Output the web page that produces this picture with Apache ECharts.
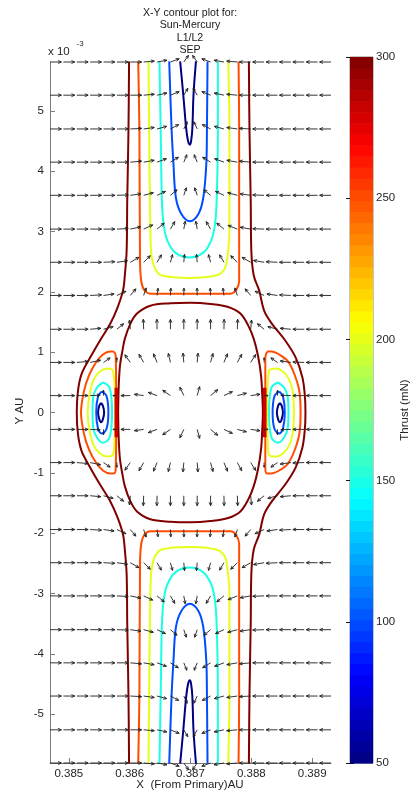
<!DOCTYPE html>
<html>
<head>
<meta charset="utf-8">
<script src="https://cdn.jsdelivr.net/npm/echarts@6/dist/echarts.min.js"></script>
<style>
  html, body { margin: 0; padding: 0; background: #fff; }
  #chart { width: 417px; height: 798px; }
</style>
</head>
<body>
<div id="chart"></div>
<script>
// ---- Thrust contours (mN), X in AU, Y in 1e-3 AU ----
const cMin = 50, cMax = 300;

// band above Mercury (U shapes opening to the top edge)
const topBand50  = [[0.38683,5.82],[0.38688,5.28],[0.38693,4.70],[0.38696,4.50],[0.38699,4.44],[0.38701,4.50],[0.38703,4.70],[0.38705,5.28],[0.38709,5.82]];
const topBand100 = [[0.38665,5.82],[0.38669,4.67],[0.38672,4.12],[0.38676,3.56],[0.38685,3.29],[0.38699,3.17],[0.38713,3.29],[0.38721,3.56],[0.38726,4.12],[0.38727,4.67],[0.38728,5.82]];
const topBand150 = [[0.38649,5.82],[0.38651,4.67],[0.38653,3.51],[0.38656,3.10],[0.38662,2.85],[0.38675,2.65],[0.38698,2.57],[0.38721,2.65],[0.38734,2.85],[0.38740,3.10],[0.38743,3.51],[0.38745,4.67],[0.38745,5.82]];
const topBand200 = [[0.38631,5.82],[0.38632,4.67],[0.38634,3.01],[0.38636,2.60],[0.38642,2.38],[0.38653,2.27],[0.38698,2.23],[0.38742,2.27],[0.38756,2.38],[0.38761,2.60],[0.38764,3.01],[0.38764,4.67],[0.38762,5.82]];
const topBand250 = [[0.38614,5.82],[0.38616,4.67],[0.38617,2.51],[0.38619,2.18],[0.38624,2.03],[0.38634,1.97],[0.38698,1.97],[0.38766,1.97],[0.38775,2.03],[0.38780,2.18],[0.38780,2.51],[0.38780,4.67],[0.38779,5.82]];

// band below Mercury
const bottomBand50  = [[0.38683,-5.82],[0.38688,-5.28],[0.38693,-4.70],[0.38696,-4.50],[0.38699,-4.44],[0.38701,-4.50],[0.38703,-4.70],[0.38705,-5.28],[0.38709,-5.82]];
const bottomBand100 = [[0.38665,-5.82],[0.38669,-4.67],[0.38672,-4.12],[0.38676,-3.56],[0.38685,-3.29],[0.38699,-3.17],[0.38713,-3.29],[0.38721,-3.56],[0.38726,-4.12],[0.38727,-4.67],[0.38728,-5.82]];
const bottomBand150 = [[0.38649,-5.82],[0.38651,-4.67],[0.38653,-3.51],[0.38656,-3.10],[0.38662,-2.85],[0.38675,-2.65],[0.38698,-2.57],[0.38721,-2.65],[0.38734,-2.85],[0.38740,-3.10],[0.38743,-3.51],[0.38745,-4.67],[0.38745,-5.82]];
const bottomBand200 = [[0.38631,-5.82],[0.38632,-4.67],[0.38634,-3.01],[0.38636,-2.60],[0.38642,-2.38],[0.38653,-2.27],[0.38698,-2.23],[0.38742,-2.27],[0.38756,-2.38],[0.38761,-2.60],[0.38764,-3.01],[0.38764,-4.67],[0.38762,-5.82]];
const bottomBand250 = [[0.38614,-5.82],[0.38616,-4.67],[0.38617,-2.51],[0.38619,-2.18],[0.38624,-2.03],[0.38634,-1.97],[0.38698,-1.97],[0.38766,-1.97],[0.38775,-2.03],[0.38780,-2.18],[0.38780,-2.51],[0.38780,-4.67],[0.38779,-5.82]];

// 300 mN: outer boundaries and the closed loop round Mercury
const outerLeft300 = [[0.38599,5.82],[0.38598,4.67],[0.38596,3.51],[0.38595,2.68],[0.38592,2.27],[0.38589,2.02],[0.38580,1.74],[0.38568,1.47],[0.38551,1.19],[0.38535,0.91],[0.38521,0.64],[0.38515,0.36],[0.38513,0],[0.38515,-0.36],[0.38521,-0.64],[0.38535,-0.91],[0.38551,-1.19],[0.38568,-1.47],[0.38580,-1.74],[0.38589,-2.02],[0.38592,-2.27],[0.38595,-2.68],[0.38596,-3.51],[0.38598,-4.67],[0.38599,-5.82]];
const outerRight300 = [[0.38796,5.82],[0.38797,4.67],[0.38799,3.51],[0.38800,2.68],[0.38804,2.27],[0.38813,2.02],[0.38821,1.69],[0.38834,1.47],[0.38856,1.19],[0.38873,0.91],[0.38884,0.58],[0.38888,0.28],[0.38889,0],[0.38888,-0.28],[0.38884,-0.58],[0.38873,-0.91],[0.38856,-1.19],[0.38834,-1.47],[0.38821,-1.69],[0.38813,-2.02],[0.38804,-2.27],[0.38800,-2.68],[0.38799,-3.51],[0.38797,-4.67],[0.38796,-5.82]];
const core300 = [[0.38581,0],[0.38582,0.44],[0.38584,0.77],[0.38588,1.02],[0.38592,1.22],[0.38601,1.47],[0.38612,1.64],[0.38634,1.77],[0.38667,1.81],[0.38700,1.82],[0.38733,1.80],[0.38762,1.75],[0.38782,1.64],[0.38795,1.44],[0.38804,1.22],[0.38811,0.94],[0.38816,0.61],[0.38818,0.28],[0.38819,0],[0.38818,-0.28],[0.38816,-0.61],[0.38811,-0.94],[0.38804,-1.22],[0.38795,-1.44],[0.38782,-1.64],[0.38762,-1.75],[0.38733,-1.80],[0.38700,-1.82],[0.38667,-1.81],[0.38634,-1.77],[0.38612,-1.64],[0.38601,-1.47],[0.38592,-1.22],[0.38588,-1.02],[0.38584,-0.77],[0.38582,-0.44],[0.38581,0]];

// closed loops round L1
const lobeL1_50  = [[0.38553,0.16],[0.38550,0.11],[0.38548,0],[0.38550,-0.11],[0.38553,-0.16],[0.38556,-0.11],[0.38558,0],[0.38556,0.11],[0.38553,0.16]];
const lobeL1_100 = [[0.38554,0.35],[0.38548,0.27],[0.38545,0],[0.38548,-0.27],[0.38554,-0.35],[0.38562,-0.27],[0.38565,0],[0.38562,0.27],[0.38554,0.35]];
const lobeL1_150 = [[0.38556,0.50],[0.38546,0.41],[0.38540,0.25],[0.38539,0],[0.38540,-0.25],[0.38546,-0.41],[0.38556,-0.50],[0.38566,-0.43],[0.38570,-0.23],[0.38571,0],[0.38570,0.23],[0.38566,0.43],[0.38556,0.50]];
const lobeL1_200 = [[0.38572,0.71],[0.38563,0.73],[0.38551,0.68],[0.38541,0.55],[0.38535,0.35],[0.38531,0],[0.38535,-0.35],[0.38541,-0.55],[0.38551,-0.68],[0.38563,-0.73],[0.38572,-0.71],[0.38575,-0.48],[0.38576,0],[0.38575,0.48],[0.38572,0.71]];
const lobeL1_250 = [[0.38574,1.01],[0.38568,1.01],[0.38556,0.96],[0.38544,0.82],[0.38533,0.61],[0.38525,0.36],[0.38520,0],[0.38525,-0.36],[0.38533,-0.61],[0.38544,-0.82],[0.38556,-0.96],[0.38568,-1.01],[0.38574,-1.01],[0.38577,-0.95],[0.38578,0],[0.38577,0.95],[0.38574,1.01]];

// closed loops round L2
const lobeL2_50  = [[0.38847,0.16],[0.38850,0.11],[0.38852,0],[0.38850,-0.11],[0.38847,-0.16],[0.38844,-0.11],[0.38842,0],[0.38844,0.11],[0.38847,0.16]];
const lobeL2_100 = [[0.38846,0.35],[0.38852,0.27],[0.38855,0],[0.38852,-0.27],[0.38846,-0.35],[0.38838,-0.27],[0.38835,0],[0.38838,0.27],[0.38846,0.35]];
const lobeL2_150 = [[0.38844,0.50],[0.38854,0.41],[0.38860,0.25],[0.38861,0],[0.38860,-0.25],[0.38854,-0.41],[0.38844,-0.50],[0.38834,-0.43],[0.38830,-0.23],[0.38829,0],[0.38830,0.23],[0.38834,0.43],[0.38844,0.50]];
const lobeL2_200 = [[0.38829,0.71],[0.38841,0.73],[0.38852,0.68],[0.38862,0.55],[0.38868,0.35],[0.38870,0],[0.38868,-0.35],[0.38862,-0.55],[0.38852,-0.68],[0.38841,-0.73],[0.38829,-0.71],[0.38827,-0.48],[0.38826,0],[0.38827,0.48],[0.38829,0.71]];
const lobeL2_250 = [[0.38826,1.01],[0.38833,1.01],[0.38846,0.96],[0.38860,0.85],[0.38871,0.63],[0.38879,0.35],[0.38881,0],[0.38879,-0.35],[0.38871,-0.63],[0.38860,-0.85],[0.38846,-0.96],[0.38833,-1.01],[0.38826,-1.01],[0.38823,-0.91],[0.38823,0],[0.38823,0.91],[0.38826,1.01]];

// bunched contours on the Mercury side of each Lagrange point
const stepL1 = [[0.38578,0.41],[0.38578,-0.41]];
const stepL2 = [[0.38822,0.41],[0.38822,-0.41]];

// ---- Thrust direction field (quiver) ----
const gridX = [0.38469,0.38491,0.38513,0.38535,0.38557,0.38579,0.38601,0.38623,0.38645,0.38667,0.38689,0.38711,0.38733,0.38755,0.38777,0.38799,0.38821,0.38843,0.38865,0.38887,0.38909,0.38931];
const gridY = [5.81,5.26,4.70,4.15,3.60,3.04,2.49,1.94,1.38,0.83,0.28,-0.28,-0.83,-1.38,-1.94,-2.49,-3.04,-3.60,-4.15,-4.70,-5.26,-5.81];
// arrow direction in degrees, one row per gridY value (top to bottom)
const quiverAngle = [
  [0,0,0,0,0,0,0,5,10,20,55,125,160,170,175,180,180,180,180,180,180,180],
  [0,0,0,0,0,0,0,5,12,22,60,120,158,168,175,180,180,180,180,180,180,180],
  [0,0,0,0,0,0,3,8,15,28,65,115,152,165,172,177,180,180,180,180,180,180],
  [0,0,0,0,0,0,5,10,20,32,68,112,148,160,170,175,180,180,180,180,180,180],
  [0,0,0,0,0,2,8,15,25,40,72,108,140,155,165,172,178,180,180,180,180,180],
  [0,0,0,0,0,3,12,25,40,60,80,100,120,140,158,170,178,180,180,180,180,180],
  [0,0,0,0,3,8,30,45,60,75,85,95,105,120,135,150,170,177,180,180,180,180],
  [0,0,0,3,8,25,50,72,82,87,89,91,93,98,108,130,155,172,177,180,180,180],
  [0,0,0,5,15,40,95,92,91,90,90,90,90,89,88,85,140,165,175,180,180,180],
  [0,0,5,12,35,90,125,120,112,103,95,85,75,68,62,58,90,145,172,178,180,180],
  [0,0,0,2,90,180,180,172,160,145,115,75,40,25,15,8,0,90,178,180,180,180],
  [0,0,0,-2,-90,180,180,-172,-160,-145,-115,-75,-40,-25,-15,-8,0,-90,-178,180,180,180],
  [0,0,-5,-12,-35,-90,-125,-120,-112,-103,-95,-85,-75,-68,-62,-58,-90,-145,-172,-178,180,180],
  [0,0,0,-5,-15,-40,-95,-92,-91,-90,-90,-90,-90,-89,-88,-85,-140,-165,-175,180,180,180],
  [0,0,0,-3,-8,-25,-50,-72,-82,-87,-89,-91,-93,-98,-108,-130,-155,-172,-177,180,180,180],
  [0,0,0,0,-3,-8,-30,-45,-60,-75,-85,-95,-105,-120,-135,-150,-170,-177,180,180,180,180],
  [0,0,0,0,0,-3,-12,-25,-40,-60,-80,-100,-120,-140,-158,-170,-178,180,180,180,180,180],
  [0,0,0,0,0,-2,-8,-15,-25,-40,-72,-108,-140,-155,-165,-172,-178,180,180,180,180,180],
  [0,0,0,0,0,0,-5,-10,-20,-32,-68,-112,-148,-160,-170,-175,180,180,180,180,180,180],
  [0,0,0,0,0,0,-3,-8,-15,-28,-65,-115,-152,-165,-172,-177,180,180,180,180,180,180],
  [0,0,0,0,0,0,0,-5,-12,-22,-60,-120,-158,-168,-175,180,180,180,180,180,180,180],
  [0,0,0,0,0,0,0,-5,-10,-20,-55,-125,-160,-170,-175,180,180,180,180,180,180,180]
];
// arrow length relative to the grid spacing
const quiverLength = [
  [.85,.85,.85,.85,.85,.85,.85,.8,.75,.7,.6,.6,.7,.75,.8,.85,.85,.85,.85,.85,.85,.85],
  [.85,.85,.85,.85,.85,.85,.85,.8,.75,.7,.6,.6,.7,.75,.8,.85,.85,.85,.85,.85,.85,.85],
  [.85,.85,.85,.85,.85,.85,.85,.8,.75,.7,.6,.6,.7,.75,.8,.85,.85,.85,.85,.85,.85,.85],
  [.85,.85,.85,.85,.85,.85,.85,.8,.75,.7,.6,.6,.7,.75,.8,.85,.85,.85,.85,.85,.85,.85],
  [.85,.85,.85,.85,.85,.85,.8,.75,.7,.65,.6,.6,.65,.7,.75,.8,.85,.85,.85,.85,.85,.85],
  [.85,.85,.85,.85,.85,.85,.8,.75,.7,.65,.6,.6,.65,.7,.75,.8,.85,.85,.85,.85,.85,.85],
  [.85,.85,.85,.85,.85,.8,.75,.7,.65,.6,.6,.6,.6,.65,.7,.75,.8,.85,.85,.85,.85,.85],
  [.85,.85,.85,.85,.8,.75,.65,.6,.55,.55,.55,.55,.55,.55,.6,.65,.75,.8,.85,.85,.85,.85],
  [.85,.85,.85,.8,.75,.65,.7,.75,.75,.75,.75,.75,.75,.75,.75,.7,.65,.75,.8,.85,.85,.85],
  [.85,.85,.85,.8,.6,.35,.7,.7,.7,.7,.7,.7,.7,.7,.7,.7,.35,.6,.8,.85,.85,.85],
  [.85,.85,.85,.75,.4,.3,.7,.7,.7,.7,.7,.7,.7,.7,.7,.7,.3,.4,.75,.85,.85,.85],
  [.85,.85,.85,.75,.4,.3,.7,.7,.7,.7,.7,.7,.7,.7,.7,.7,.3,.4,.75,.85,.85,.85],
  [.85,.85,.85,.8,.6,.35,.7,.7,.7,.7,.7,.7,.7,.7,.7,.7,.35,.6,.8,.85,.85,.85],
  [.85,.85,.85,.8,.75,.65,.7,.75,.75,.75,.75,.75,.75,.75,.75,.7,.65,.75,.8,.85,.85,.85],
  [.85,.85,.85,.85,.8,.75,.65,.6,.55,.55,.55,.55,.55,.55,.6,.65,.75,.8,.85,.85,.85,.85],
  [.85,.85,.85,.85,.85,.8,.75,.7,.65,.6,.6,.6,.6,.65,.7,.75,.8,.85,.85,.85,.85,.85],
  [.85,.85,.85,.85,.85,.85,.8,.75,.7,.65,.6,.6,.65,.7,.75,.8,.85,.85,.85,.85,.85,.85],
  [.85,.85,.85,.85,.85,.85,.8,.75,.7,.65,.6,.6,.65,.7,.75,.8,.85,.85,.85,.85,.85,.85],
  [.85,.85,.85,.85,.85,.85,.85,.8,.75,.7,.6,.6,.7,.75,.8,.85,.85,.85,.85,.85,.85,.85],
  [.85,.85,.85,.85,.85,.85,.85,.8,.75,.7,.6,.6,.7,.75,.8,.85,.85,.85,.85,.85,.85,.85],
  [.85,.85,.85,.85,.85,.85,.85,.8,.75,.7,.6,.6,.7,.75,.8,.85,.85,.85,.85,.85,.85,.85],
  [.85,.85,.85,.85,.85,.85,.85,.8,.75,.7,.6,.6,.7,.75,.8,.85,.85,.85,.85,.85,.85,.85]
];

// axis ticks
const xTicks = [0.385, 0.386, 0.387, 0.388, 0.389];
const yTicks = [-5, -4, -3, -2, -1, 0, 1, 2, 3, 4, 5];

// ---- helpers ----
const FONT = '"Liberation Sans", Arial, Helvetica, sans-serif';

// MATLAB-style jet colormap
function jet(v) {
  const t = Math.max(0, Math.min(1, (v - cMin) / (cMax - cMin)));
  const f = (s) => Math.round(255 * Math.max(0, Math.min(1, 1.5 - Math.abs(4 * t - s))));
  return 'rgb(' + f(3) + ',' + f(2) + ',' + f(1) + ')';
}

function contour(data, level, width) {
  return {
    type: 'line', xAxisIndex: 0, yAxisIndex: 0, data: data,
    symbol: 'none', smooth: 0.35, clip: true, silent: true, z: 3,
    lineStyle: { color: jet(level), width: width || 2 }
  };
}

const QSTEP_X = 0.00022, QSTEP_Y = 0.22;   // quiver scale in axis units
const quiverData = [];
gridY.forEach((y, r) => gridX.forEach((x, c) => {
  quiverData.push([x, y, quiverAngle[r][c], quiverLength[r][c]]);
}));

function renderArrow(params, api) {
  const x = api.value(0), y = api.value(1);
  const a = api.value(2) * Math.PI / 180, len = api.value(3);
  const p0 = api.coord([x, y]);
  const p1 = api.coord([x + len * QSTEP_X * Math.cos(a), y + len * QSTEP_Y * Math.sin(a)]);
  const dx = p1[0] - p0[0], dy = p1[1] - p0[1];
  const L = Math.hypot(dx, dy) || 1;
  const bx = -dx / L, by = -dy / L;
  const h = Math.min(3.6, 0.42 * L), ang = 0.42, cs = Math.cos(ang), sn = Math.sin(ang);
  const h1 = [p1[0] + h * (bx * cs - by * sn), p1[1] + h * (bx * sn + by * cs)];
  const h2 = [p1[0] + h * (bx * cs + by * sn), p1[1] + h * (-bx * sn + by * cs)];
  const st = { stroke: '#1e1e1e', lineWidth: 0.9, fill: null };
  return {
    type: 'group',
    children: [
      { type: 'polyline', shape: { points: [p0, p1] }, style: st },
      { type: 'polyline', shape: { points: [h1, p1, h2] }, style: st }
    ]
  };
}

// 64-step colour bar
const colorBands = [];
for (let i = 0; i < 64; i++) {
  colorBands.push([cMin + (cMax - cMin) * i / 64, cMin + (cMax - cMin) * (i + 1) / 64]);
}
function renderBand(params, api) {
  const lo = api.value(0), hi = api.value(1);
  const pTop = api.coord([0, hi]), pBot = api.coord([1, lo]);
  return {
    type: 'rect',
    shape: { x: pTop[0], y: pTop[1], width: pBot[0] - pTop[0], height: pBot[1] - pTop[1] + 0.6 },
    style: { fill: jet((lo + hi) / 2) }
  };
}

const chart = echarts.init(document.getElementById('chart'), null, { renderer: 'canvas' });

const labelStyle = { color: '#262626', fontSize: 11.5, fontFamily: FONT };
const titleStyle = { fontSize: 10.6, fontFamily: FONT, fill: '#1a1a1a', align: 'center', verticalAlign: 'middle' };

chart.setOption({
  animation: false,
  backgroundColor: '#ffffff',
  grid: [
    { left: 50, top: 62, width: 281, height: 701 },
    { left: 350, top: 57, width: 23, height: 706, show: true, borderColor: '#3a3a3a', borderWidth: 0.6, backgroundColor: 'transparent' }
  ],
  xAxis: [
    {
      gridIndex: 0, type: 'value', min: 0.38469, max: 0.38931,
      axisLine: { show: true, onZero: false, lineStyle: { color: '#7d7d7d', width: 1 } },
      axisTick: { show: true, inside: true, length: 5, customValues: xTicks, lineStyle: { color: '#7d7d7d' } },
      axisLabel: { customValues: xTicks, formatter: (v) => v.toFixed(3), margin: 5, ...labelStyle },
      splitLine: { show: false }
    },
    { gridIndex: 1, type: 'value', min: 0, max: 1, show: false }
  ],
  yAxis: [
    {
      gridIndex: 0, type: 'value', min: -5.81, max: 5.81,
      axisLine: { show: true, onZero: false, lineStyle: { color: '#7d7d7d', width: 1 } },
      axisTick: { show: true, inside: true, length: 5, customValues: yTicks, lineStyle: { color: '#7d7d7d' } },
      axisLabel: { customValues: yTicks, formatter: (v) => String(Math.round(v)), margin: 6, ...labelStyle },
      splitLine: { show: false }
    },
    {
      gridIndex: 1, type: 'value', min: 50, max: 300, interval: 50, position: 'right',
      axisLine: { show: false },
      axisTick: { show: true, inside: true, length: 4, lineStyle: { color: '#111' } },
      axisLabel: { margin: 3, ...labelStyle },
      splitLine: { show: false }
    },
    {
      gridIndex: 1, type: 'value', min: 50, max: 300, interval: 50, position: 'left',
      axisLine: { show: false },
      axisTick: { show: true, inside: true, length: 4, lineStyle: { color: '#111' } },
      axisLabel: { show: false },
      splitLine: { show: false }
    }
  ],
  series: [
    {
      type: 'custom', xAxisIndex: 1, yAxisIndex: 1, data: colorBands,
      renderItem: renderBand, silent: true, z: 1
    },
    contour(topBand50, 50), contour(topBand100, 100), contour(topBand150, 150),
    contour(topBand200, 200), contour(topBand250, 250),
    contour(bottomBand50, 50), contour(bottomBand100, 100), contour(bottomBand150, 150),
    contour(bottomBand200, 200), contour(bottomBand250, 250),
    contour(outerLeft300, 300), contour(outerRight300, 300), contour(core300, 300),
    contour(lobeL1_50, 50), contour(lobeL1_100, 100), contour(lobeL1_150, 150),
    contour(lobeL1_200, 200), contour(lobeL1_250, 250),
    contour(lobeL2_50, 50), contour(lobeL2_100, 100), contour(lobeL2_150, 150),
    contour(lobeL2_200, 200), contour(lobeL2_250, 250),
    {
      type: 'line', xAxisIndex: 0, yAxisIndex: 0, data: stepL1, symbol: 'none', silent: true, z: 3,
      lineStyle: { color: jet(280), width: 3.5 }
    },
    {
      type: 'line', xAxisIndex: 0, yAxisIndex: 0, data: stepL2, symbol: 'none', silent: true, z: 3,
      lineStyle: { color: jet(280), width: 3.5 }
    },
    {
      type: 'custom', xAxisIndex: 0, yAxisIndex: 0, data: quiverData,
      encode: { x: 0, y: 1 }, renderItem: renderArrow, clip: false, silent: true, z: 5
    }
  ],
  graphic: [
    { type: 'text', x: 190, y: 13, style: { text: 'X-Y contour plot for:', ...titleStyle } },
    { type: 'text', x: 190, y: 25.5, style: { text: 'Sun-Mercury', ...titleStyle } },
    { type: 'text', x: 190, y: 38, style: { text: 'L1/L2', ...titleStyle } },
    { type: 'text', x: 190, y: 50.5, style: { text: 'SEP', ...titleStyle } },
    { type: 'text', x: 48, y: 52, style: { text: 'x 10', fontSize: 11.5, fontFamily: FONT, fill: '#262626', align: 'left', verticalAlign: 'middle' } },
    { type: 'text', x: 76.5, y: 43.5, style: { text: '-3', fontSize: 8, fontFamily: FONT, fill: '#262626', align: 'left', verticalAlign: 'middle' } },
    { type: 'text', x: 20, y: 411, rotation: Math.PI / 2, style: { text: 'Y AU', fontSize: 11.5, fontFamily: FONT, fill: '#262626', align: 'center', verticalAlign: 'middle' } },
    { type: 'text', x: 190, y: 785, style: { text: 'X  (From Primary)AU', fontSize: 11.5, fontFamily: FONT, fill: '#262626', align: 'center', verticalAlign: 'middle' } },
    { type: 'text', x: 405, y: 410, rotation: Math.PI / 2, style: { text: 'Thrust (mN)', fontSize: 11.5, fontFamily: FONT, fill: '#262626', align: 'center', verticalAlign: 'middle' } }
  ]
});
</script>
</body>
</html>
